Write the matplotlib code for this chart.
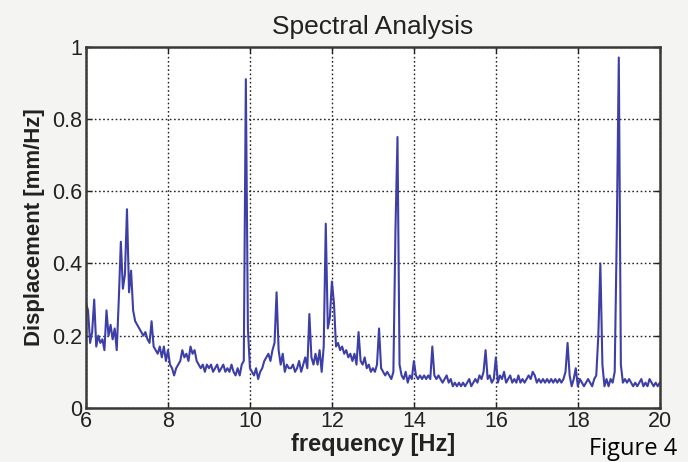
import numpy as np
import matplotlib
matplotlib.use("Agg")
import matplotlib.pyplot as plt

# displacement spectrum, one value every 0.05 Hz from 6 to 20 Hz
f_start = 6.0
f_step = 0.05
disp = [
    0.29, 0.27, 0.18, 0.21, 0.30, 0.17, 0.20, 0.18, 0.19, 0.16,   # 6.00
    0.27, 0.20, 0.23, 0.19, 0.22, 0.16, 0.30, 0.46, 0.33, 0.37,   # 6.50
    0.55, 0.32, 0.38, 0.27, 0.24, 0.23, 0.22, 0.21, 0.20, 0.21,   # 7.00
    0.19, 0.18, 0.24, 0.17, 0.16, 0.15, 0.17, 0.14, 0.17, 0.13,   # 7.50
    0.16, 0.12, 0.11, 0.09, 0.11, 0.12, 0.13, 0.16, 0.14, 0.15,   # 8.00
    0.13, 0.17, 0.15, 0.16, 0.13, 0.12, 0.11, 0.12, 0.10, 0.12,   # 8.50
    0.11, 0.12, 0.10, 0.11, 0.12, 0.10, 0.11, 0.12, 0.10, 0.11,   # 9.00
    0.10, 0.12, 0.10, 0.09, 0.11, 0.09, 0.12, 0.13, 0.91, 0.22,   # 9.50
    0.11, 0.10, 0.09, 0.11, 0.08, 0.10, 0.11, 0.13, 0.14, 0.15,   # 10.00
    0.13, 0.16, 0.18, 0.32, 0.16, 0.12, 0.15, 0.10, 0.12, 0.11,   # 10.50
    0.11, 0.12, 0.10, 0.11, 0.13, 0.10, 0.12, 0.14, 0.11, 0.26,   # 11.00
    0.14, 0.12, 0.15, 0.12, 0.16, 0.10, 0.17, 0.51, 0.22, 0.25,   # 11.50
    0.35, 0.29, 0.17, 0.18, 0.16, 0.17, 0.15, 0.16, 0.14, 0.15,   # 12.00
    0.13, 0.15, 0.12, 0.21, 0.13, 0.12, 0.14, 0.11, 0.12, 0.10,   # 12.50
    0.11, 0.10, 0.12, 0.22, 0.11, 0.10, 0.09, 0.10, 0.09, 0.08,   # 13.00
    0.10, 0.49, 0.75, 0.12, 0.09, 0.08, 0.10, 0.07, 0.09, 0.08,   # 13.50
    0.13, 0.09, 0.08, 0.09, 0.08, 0.09, 0.08, 0.09, 0.08, 0.17,   # 14.00
    0.09, 0.08, 0.09, 0.08, 0.07, 0.08, 0.09, 0.07, 0.08, 0.06,   # 14.50
    0.07, 0.06, 0.07, 0.06, 0.07, 0.06, 0.07, 0.08, 0.06, 0.07,   # 15.00
    0.08, 0.07, 0.09, 0.08, 0.10, 0.16, 0.08, 0.09, 0.07, 0.08,   # 15.50
    0.14, 0.07, 0.09, 0.08, 0.10, 0.07, 0.08, 0.09, 0.07, 0.08,   # 16.00
    0.07, 0.09, 0.07, 0.08, 0.07, 0.08, 0.09, 0.08, 0.10, 0.09,   # 16.50
    0.07, 0.08, 0.07, 0.08, 0.07, 0.08, 0.07, 0.08, 0.07, 0.08,   # 17.00
    0.07, 0.08, 0.07, 0.08, 0.10, 0.18, 0.09, 0.06, 0.08, 0.11,   # 17.50
    0.06, 0.08, 0.07, 0.06, 0.07, 0.08, 0.07, 0.06, 0.08, 0.09,   # 18.00
    0.20, 0.40, 0.12, 0.06, 0.08, 0.06, 0.08, 0.07, 0.10, 0.48,   # 18.50
    0.97, 0.12, 0.07, 0.08, 0.07, 0.08, 0.07, 0.06, 0.07, 0.06,   # 19.00
    0.07, 0.08, 0.06, 0.07, 0.06, 0.08, 0.07, 0.06, 0.07, 0.06,   # 19.50
    0.07,                                                         # 20.00
]
freq = f_start + f_step * np.arange(len(disp))

xticks = [6, 8, 10, 12, 14, 16, 18, 20]
yticks = [0, 0.2, 0.4, 0.6, 0.8, 1]
ytick_labels = ['0', '0.2', '0.4', '0.6', '0.8', '1']

plt.rcParams['font.family'] = ['Liberation Sans', 'DejaVu Sans']

fig = plt.figure(figsize=(6.88, 4.62), dpi=100, facecolor='#f4f4f2')
ax = fig.add_axes([0.125, 0.117, 0.834, 0.782])
ax.set_facecolor('white')

ax.plot(freq, disp, color='#3d3fa6', lw=1.5)

ax.set_xlim(6, 20)
ax.set_ylim(0, 1)
ax.set_xticks(xticks)
ax.set_yticks(yticks)
ax.set_yticklabels(ytick_labels)
ax.grid(True, color='#222222', linestyle=(0, (1.2, 1.8)), linewidth=1.0)
ax.tick_params(direction='in', length=4, width=1, top=True, right=True,
               labelsize=15.5, colors='#222222')
ax.tick_params(axis='x', pad=2)
ax.tick_params(axis='y', pad=3)
for s in ax.spines.values():
    s.set_linewidth(1.8)
    s.set_color('#3a3a3a')

ax.set_title('Spectral Analysis', fontsize=19, pad=9, color='#222222')
ax.set_xlabel('frequency [Hz]', fontsize=17, fontweight='bold', labelpad=1, color='#222222')
ax.set_ylabel('Displacement [mm/Hz]', fontsize=16, fontweight='bold', labelpad=5, color='#222222')

fig.text(0.984, 0.015, 'Figure 4', ha='right', va='baseline', fontsize=17,
         family=['Open Sans', 'DejaVu Sans'], color='black')

fig.savefig('out.png', dpi=100, facecolor=fig.get_facecolor())
